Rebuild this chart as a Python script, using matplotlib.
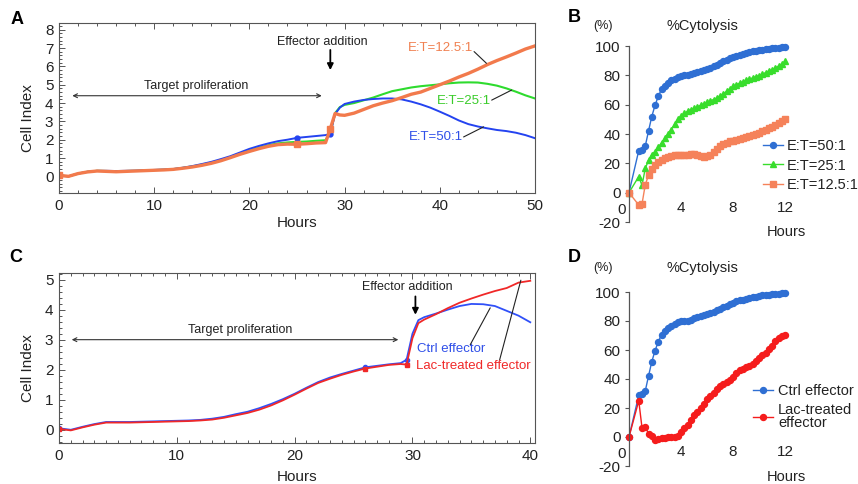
import numpy as np
import matplotlib
matplotlib.use("Agg")
import matplotlib.pyplot as plt
from matplotlib.ticker import MultipleLocator

plt.rcParams["font.family"] = ["Liberation Sans", "DejaVu Sans"]
plt.rcParams["axes.unicode_minus"] = False

# ---- panel A: cell index for three E:T ratios ----
hours_a = list(range(0, 29)) + [28.5, 29, 29.5] + list(range(30, 51))
ci_a_50 = [0.05, 0.0, 0.15, 0.25, 0.3, 0.3, 0.29, 0.3, 0.31, 0.33, 0.35, 0.37, 0.4, 0.47,
           0.56, 0.67, 0.79, 0.94, 1.1, 1.3, 1.5, 1.66, 1.8, 1.92, 2.0, 2.1, 2.15, 2.2, 2.25,
           2.33, 3.4, 3.75, 3.95, 4.08, 4.17, 4.22, 4.25, 4.25, 4.2, 4.08, 3.93, 3.75, 3.53,
           3.3, 3.05, 2.85, 2.72, 2.62, 2.53, 2.47, 2.38, 2.25, 2.08]
ci_a_25 = [0.05, 0.0, 0.15, 0.25, 0.3, 0.29, 0.28, 0.29, 0.3, 0.32, 0.34, 0.36, 0.39, 0.46,
           0.54, 0.64, 0.75, 0.88, 1.05, 1.24, 1.42, 1.57, 1.7, 1.8, 1.85, 1.88, 1.9, 1.94, 1.97,
           2.4, 3.45, 3.78, 3.9, 4.0, 4.15, 4.3, 4.48, 4.65, 4.75, 4.85, 4.92, 4.97, 5.02,
           5.08, 5.12, 5.13, 5.12, 5.05, 4.95, 4.8, 4.62, 4.42, 4.25]
ci_a_12 = [0.05, 0.0, 0.15, 0.24, 0.29, 0.27, 0.25, 0.27, 0.29, 0.31, 0.33, 0.35, 0.38, 0.44,
           0.51, 0.6, 0.71, 0.85, 1.02, 1.2, 1.36, 1.51, 1.64, 1.73, 1.76, 1.75, 1.78, 1.82, 1.84,
           2.6, 3.43, 3.35, 3.33, 3.45, 3.65, 3.85, 4.0, 4.13, 4.3, 4.48, 4.6, 4.8, 5.0,
           5.2, 5.42, 5.62, 5.85, 6.1, 6.32, 6.52, 6.73, 6.95, 7.12]

# ---- panel C: cell index, ctrl vs lactate-treated effectors ----
hours_c = list(range(0, 30)) + [29.5, 30, 30.5] + list(range(31, 41))
ci_c_ctrl = [0.05, 0.0, 0.1, 0.19, 0.26, 0.26, 0.26, 0.27, 0.28, 0.29, 0.3, 0.31, 0.33, 0.37,
             0.43, 0.52, 0.6, 0.72, 0.86, 1.02, 1.2, 1.4, 1.59, 1.74, 1.86, 1.97, 2.08, 2.13,
             2.18, 2.22, 2.33, 3.2, 3.65, 3.75, 3.87, 4.0, 4.12, 4.19, 4.18, 4.12, 3.96, 3.8, 3.58]
ci_c_lac = [0.03, -0.02, 0.08, 0.17, 0.24, 0.24, 0.24, 0.25, 0.26, 0.27, 0.28, 0.29, 0.31, 0.34,
            0.4, 0.48, 0.56, 0.67, 0.81, 0.98, 1.17, 1.37, 1.56, 1.7, 1.83, 1.94, 2.04, 2.1,
            2.16, 2.19, 2.17, 3.05, 3.55, 3.67, 3.85, 4.05, 4.23, 4.37, 4.5, 4.62, 4.72, 4.9, 4.96]

# ---- panels B and D: % cytolysis after effector addition ----
hours_bd = [0] + list(np.arange(0.75, 12.01, 0.25))
lysis_50 = [0, 28.7, 29.4, 31.7, 42, 51.8, 59.5, 65.6, 70.6, 73, 75, 76.5, 77.8, 79, 79.8, 80,
            80.2, 80.8, 81.8, 82.6, 83.2, 83.8, 84.5, 85.3, 86.3, 87.3, 88.4, 89.5, 90.6, 91.7,
            92.7, 93.5, 94.2, 94.8, 95.3, 95.8, 96.3, 96.8, 97.2, 97.6, 97.9, 98.2, 98.5, 98.7,
            98.9, 99.1, 99.2]
lysis_25 = [0, 11, 5, 16.5, 22, 26, 28, 31, 34, 37, 40, 43, 46.5, 50, 52.5, 54, 55.5, 56.5,
            57.5, 58.5, 59.5, 60.5, 61.5, 62.5, 63.5, 64.5, 65.8, 67.3, 69, 70.8, 72.5, 73.6,
            74.6, 75.6, 76.6, 77.4, 78.2, 79, 79.8, 80.8, 81.8, 82.8, 83.8, 85, 86.3, 87.7, 89.5]
lysis_12 = [0, -8.4, -7.8, 5.4, 11.8, 15.8, 19, 21, 22.5, 23.5, 24.3, 25, 25.4, 25.6, 25.7,
            25.7, 25.8, 26.2, 26.5, 25.8, 24.8, 24.6, 25, 26, 27.5, 29.5, 31.5, 33, 34.2, 35,
            35.5, 36, 36.3, 37, 38, 38.8, 39.5, 40.2, 41, 42, 43, 44, 45, 46, 47.3, 48.7, 50]
lysis_ctrl = lysis_50
lysis_lac = [0, 25, 6.4, 7.2, 2.3, 0.5, -2.3, -1.5, -1, -0.6, -0.3, 0, 0.2, 1, 3.5, 6, 8.5, 12,
             15, 17.5, 20, 23, 26, 28.5, 30.5, 33, 35, 36.5, 38, 39.5, 41.5, 44, 46, 47, 48, 49,
             50.5, 52.5, 54.5, 56.5, 58, 60.5, 63, 66, 68.5, 70, 70.5]

W, H = 858, 484
fig = plt.figure(figsize=(W / 100, H / 100), dpi=100)


def px_axes(x0, y0, x1, y1):
    return fig.add_axes([x0 / W, 1 - y1 / H, (x1 - x0) / W, (y1 - y0) / H])


FRAME = "#555555"
TXT = "#222222"


def style_ci(ax, xmax, ymin, ymax, yticks, xminor):
    ax.set_xlim(0, xmax)
    ax.set_ylim(ymin, ymax)
    ax.set_yticks(yticks)
    ax.xaxis.set_minor_locator(MultipleLocator(xminor))
    ax.yaxis.set_minor_locator(MultipleLocator(0.2))
    for s in ax.spines.values():
        s.set_color(FRAME)
        s.set_linewidth(0.8)
    ax.tick_params(which="both", direction="in", top=True, color=FRAME, width=0.7)
    ax.tick_params(which="major", length=4, labelsize=11, labelcolor=TXT, pad=4)
    ax.tick_params(which="minor", length=2)
    ax.set_ylabel("Cell Index", fontsize=11, color=TXT)
    ax.set_xlabel("Hours", fontsize=11, color=TXT)
    ax.yaxis.set_label_coords(-0.05, 0.44)


def leader(ax, p0, p1):
    ax.annotate("", xy=p1, xytext=p0,
                arrowprops=dict(arrowstyle="-", color="#222222", lw=0.8, shrinkA=0, shrinkB=0))


def span_arrow(ax, x0, x1, y):
    ax.annotate("", xy=(x1, y), xytext=(x0, y),
                arrowprops=dict(arrowstyle="<->", color="#333333", lw=0.8,
                                mutation_scale=7, shrinkA=0, shrinkB=0))


def down_arrow(ax, x, y0, y1):
    ax.annotate("", xy=(x, y1), xytext=(x, y0),
                arrowprops=dict(arrowstyle="-|>", color="black", lw=1.3,
                                mutation_scale=9, shrinkA=0, shrinkB=0))


# ---------------- panel A ----------------
ax_a = px_axes(59, 23, 535, 193)
idx_a = [0, 25, 29]
ax_a.plot(hours_a, ci_a_25, color="#2EDB2E", lw=1.5, marker="s", ms=2.5, markevery=idx_a)
ax_a.plot(hours_a, ci_a_50, color="#2443F0", lw=1.4, marker="o", ms=3.5, markevery=idx_a)
ax_a.plot(hours_a, ci_a_12, color="#F27A4C", lw=2.4, marker="s", ms=4.5, markevery=idx_a)
style_ci(ax_a, 50, -0.91, 8.37, range(0, 9), 2)
ax_a.xaxis.set_label_coords(0.5, -0.135)

span_arrow(ax_a, 1.4, 27.6, 4.4)
ax_a.text(14.4, 4.93, "Target proliferation", fontsize=9, color=TXT, ha="center", va="center")
ax_a.text(27.7, 7.36, "Effector addition", fontsize=9, color=TXT, ha="center", va="center")
down_arrow(ax_a, 28.5, 6.9, 5.8)
ax_a.text(40.1, 7.0, "E:T=12.5:1", fontsize=9.5, color="#F08050", ha="center", va="center")
leader(ax_a, (43.6, 6.81), (44.9, 6.17))
ax_a.text(42.5, 4.13, "E:T=25:1", fontsize=9.5, color="#3ACC2A", ha="center", va="center")
leader(ax_a, (45.45, 4.16), (47.55, 4.71))
ax_a.text(39.6, 2.15, "E:T=50:1", fontsize=9.5, color="#2F4FE8", ha="center", va="center")
leader(ax_a, (42.5, 2.15), (44.6, 2.7))

# ---------------- panel C ----------------
ax_c = px_axes(59, 273, 535, 443)
idx_c = [0, 26, 30]
ax_c.plot(hours_c, ci_c_ctrl, color="#3050F8", lw=1.3, marker="o", ms=3, markevery=idx_c)
ax_c.plot(hours_c, ci_c_lac, color="#F02828", lw=1.3, marker="s", ms=3, markevery=idx_c)
style_ci(ax_c, 40.4, -0.44, 5.22, range(0, 6), 1)
ax_c.set_xticks([0, 10, 20, 30, 40])
ax_c.xaxis.set_label_coords(0.5, -0.16)

span_arrow(ax_c, 1.08, 28.8, 3.0)
ax_c.text(15.4, 3.33, "Target proliferation", fontsize=9, color=TXT, ha="center", va="center")
ax_c.text(29.6, 4.76, "Effector addition", fontsize=9, color=TXT, ha="center", va="center")
down_arrow(ax_c, 30.25, 4.44, 3.83)
ax_c.text(33.3, 2.7, "Ctrl effector", fontsize=9.5, color="#2F4FE8", ha="center", va="center")
leader(ax_c, (34.9, 2.83), (36.6, 4.06))
ax_c.text(35.2, 2.13, "Lac-treated effector", fontsize=9.5, color="#F02828", ha="center", va="center")
leader(ax_c, (37.4, 2.33), (39.2, 4.98))


# ---------------- panels B and D ----------------
def style_lysis(ax, title_y):
    ax.set_xlim(0, 12)
    ax.set_ylim(-20, 100)
    ax.set_yticks(range(-20, 101, 20))
    ax.set_xticks([4, 8, 12])
    for side in ("top", "right"):
        ax.spines[side].set_visible(False)
    ax.spines["bottom"].set_position(("data", 0))
    ax.spines["bottom"].set_color("none")
    ax.spines["left"].set_color(FRAME)
    ax.spines["left"].set_linewidth(0.9)
    ax.tick_params(axis="y", direction="out", length=3, width=0.8, color=FRAME,
                   labelsize=11, labelcolor=TXT, pad=3)
    ax.tick_params(axis="x", length=0, labelsize=11, labelcolor=TXT, pad=6)
    ax.annotate("0", xy=(0, 0), xytext=(-7, -17), textcoords="offset pixels",
                fontsize=11, color=TXT, ha="center", va="center")
    ax.text(1.006, title_y[2], "Hours", transform=ax.transAxes, fontsize=10.5,
            color=TXT, ha="center", va="center")
    ax.text(0.468, title_y[0], "%Cytolysis", transform=ax.transAxes, fontsize=10.5,
            color=TXT, ha="center", va="center")
    ax.text(-0.167, title_y[1], "(%)", transform=ax.transAxes, fontsize=9,
            color=TXT, ha="center", va="center")


ax_b = px_axes(629, 46, 785, 222)
ax_b.plot(hours_bd, lysis_50, color="#2F6FD3", lw=1, marker="o", ms=4.3, clip_on=False,
          label="E:T=50:1")
ax_b.plot(hours_bd, lysis_25, color="#38DD2C", lw=1, marker="^", ms=5, clip_on=False,
          label="E:T=25:1")
ax_b.plot(hours_bd, lysis_12, color="#F5825A", lw=1, marker="s", ms=4.3, clip_on=False,
          label="E:T=12.5:1")
style_lysis(ax_b, (1.114, 1.114, -0.057))
ax_b.legend(loc="upper left", bbox_to_anchor=(0.859, 0.47), frameon=False, fontsize=10.5,
            handlelength=1.37, handletextpad=0.27, labelspacing=0.36, borderpad=0,
            borderaxespad=0, labelcolor=TXT)

ax_d = px_axes(629, 292, 785, 466)
ax_d.plot(hours_bd, lysis_ctrl, color="#2F6FD3", lw=1, marker="o", ms=4.3, clip_on=False,
          label="Ctrl effector")
ax_d.plot(hours_bd, lysis_lac, color="#F51C1C", lw=1, marker="o", ms=4.3, clip_on=False,
          label="Lac-treated\neffector")
style_lysis(ax_d, (1.138, 1.138, -0.063))
leg = ax_d.legend(loc="upper left", bbox_to_anchor=(0.795, 0.47), frameon=False,
                  fontsize=10.5, handlelength=1.37, handletextpad=0.34, labelspacing=0.3,
                  borderpad=0, borderaxespad=0, labelcolor=TXT)
for t in leg.get_texts():
    t.set_linespacing(0.95)

# panel letters
for letter, (x, y) in {"A": (17, 19), "B": (574, 18), "C": (16, 258), "D": (574, 258)}.items():
    fig.text(x / W, 1 - y / H, letter, fontsize=13, fontweight="bold", color="black",
             ha="center", va="center")

fig.savefig("out.png", dpi=100)
